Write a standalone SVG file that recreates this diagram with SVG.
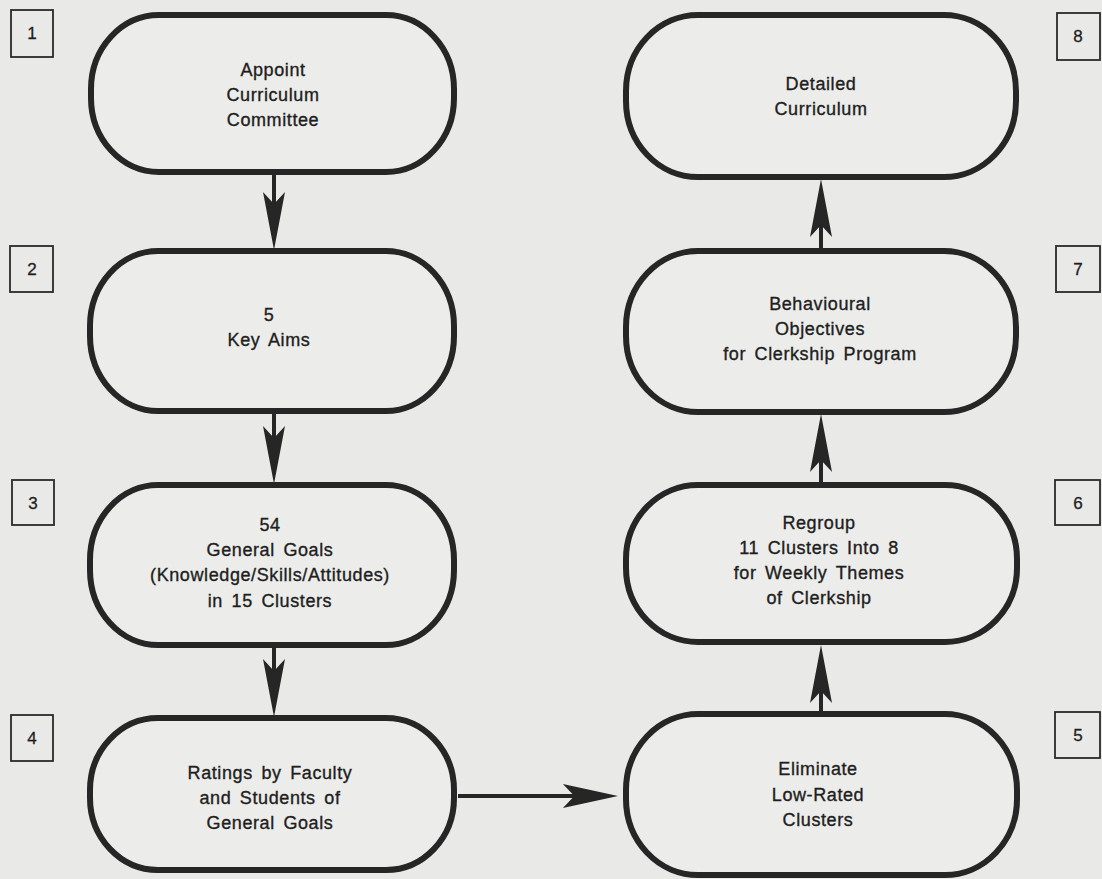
<svg xmlns="http://www.w3.org/2000/svg" width="1102" height="879" viewBox="0 0 1102 879">
<style>
.bg{fill:#e9e9e7}
.node{fill:#ececea;stroke:#262626;stroke-width:6}
.num{fill:none;stroke:#2a2a2a;stroke-width:1.8}
.t{font-family:"Liberation Sans",Arial,sans-serif;font-size:18px;fill:#1e1e1e;stroke:#1e1e1e;stroke-width:0.35;text-anchor:middle;letter-spacing:0.6px;word-spacing:3px}
.n{font-family:"Liberation Sans",Arial,sans-serif;font-size:17px;fill:#1e1e1e;stroke:#1e1e1e;stroke-width:0.3;text-anchor:middle}
.shaft{stroke:#262626;stroke-width:4;fill:none}
.head{fill:#262626}
</style>
<defs>
<path id="hd" d="M0,0 L-11,-58 L0,-46 L11,-58 Z"/>
</defs>
<rect class="bg" x="0" y="0" width="1102" height="879"/>

<g id="box-labels">
<rect class="num" x="11" y="10" width="42" height="47"/><text class="n" x="32" y="39">1</text>
<rect class="num" x="10" y="246" width="43" height="46"/><text class="n" x="32" y="275">2</text>
<rect class="num" x="12" y="480" width="42" height="45"/><text class="n" x="33" y="509">3</text>
<rect class="num" x="11" y="715" width="42" height="46"/><text class="n" x="32" y="744">4</text>
<rect class="num" x="1057" y="13" width="43" height="47"/><text class="n" x="1078" y="42">8</text>
<rect class="num" x="1056" y="246" width="44" height="46"/><text class="n" x="1078" y="275">7</text>
<rect class="num" x="1055" y="480" width="45" height="45"/><text class="n" x="1078" y="509">6</text>
<rect class="num" x="1055" y="712" width="45" height="46"/><text class="n" x="1078" y="741">5</text>
</g>

<g id="connectors">
<line class="shaft" x1="274" y1="175" x2="274" y2="205"/>
<use href="#hd" class="head" transform="translate(274,250)"/>
<line class="shaft" x1="274" y1="414" x2="274" y2="440"/>
<use href="#hd" class="head" transform="translate(274,484)"/>
<line class="shaft" x1="274" y1="648" x2="274" y2="675"/>
<use href="#hd" class="head" transform="translate(274,717)"/>
<line class="shaft" x1="821" y1="248" x2="821" y2="225"/>
<use href="#hd" class="head" transform="translate(821,179) rotate(180)"/>
<line class="shaft" x1="821" y1="482" x2="821" y2="460"/>
<use href="#hd" class="head" transform="translate(821,414) rotate(180)"/>
<line class="shaft" x1="821" y1="711" x2="821" y2="690"/>
<use href="#hd" class="head" transform="translate(821,645) rotate(180)"/>
<line class="shaft" x1="458" y1="796" x2="580" y2="796"/>
<use href="#hd" class="head" transform="translate(618,796) rotate(-90) scale(1.1,0.95)"/>
</g>

<g id="node1">
<rect class="node" x="91" y="15" width="363" height="157" rx="68" ry="74"/>
<text class="t" x="273" y="76">Appoint</text>
<text class="t" x="273" y="101">Curriculum</text>
<text class="t" x="273" y="126">Committee</text>
</g>
<g id="node2">
<rect class="node" x="90" y="251" width="364" height="160" rx="68" ry="75"/>
<text class="t" x="269" y="321">5</text>
<text class="t" x="269" y="346">Key  Aims</text>
</g>
<g id="node3">
<rect class="node" x="90" y="485" width="364" height="160" rx="68" ry="75"/>
<text class="t" x="270" y="531">54</text>
<text class="t" x="270" y="556">General Goals</text>
<text class="t" x="270" y="581">(Knowledge/Skills/Attitudes)</text>
<text class="t" x="270" y="607">in 15 Clusters</text>
</g>
<g id="node4">
<rect class="node" x="90" y="718" width="364" height="152" rx="68" ry="72"/>
<text class="t" x="270" y="779">Ratings by Faculty</text>
<text class="t" x="270" y="804">and Students of</text>
<text class="t" x="270" y="829">General Goals</text>
</g>
<g id="node5">
<rect class="node" x="626" y="714" width="391" height="161" rx="72" ry="76"/>
<text class="t" x="818" y="775">Eliminate</text>
<text class="t" x="818" y="801">Low-Rated</text>
<text class="t" x="818" y="826">Clusters</text>
</g>
<g id="node6">
<rect class="node" x="626" y="485" width="391" height="157" rx="72" ry="74"/>
<text class="t" x="819" y="529">Regroup</text>
<text class="t" x="819" y="554">11 Clusters Into 8</text>
<text class="t" x="819" y="579">for Weekly Themes</text>
<text class="t" x="819" y="604">of Clerkship</text>
</g>
<g id="node7">
<rect class="node" x="626" y="251" width="390" height="161" rx="72" ry="76"/>
<text class="t" x="820" y="310">Behavioural</text>
<text class="t" x="820" y="335">Objectives</text>
<text class="t" x="820" y="360">for Clerkship Program</text>
</g>
<g id="node8">
<rect class="node" x="626" y="15" width="390" height="162" rx="72" ry="76"/>
<text class="t" x="821" y="90">Detailed</text>
<text class="t" x="821" y="115">Curriculum</text>
</g>
</svg>
